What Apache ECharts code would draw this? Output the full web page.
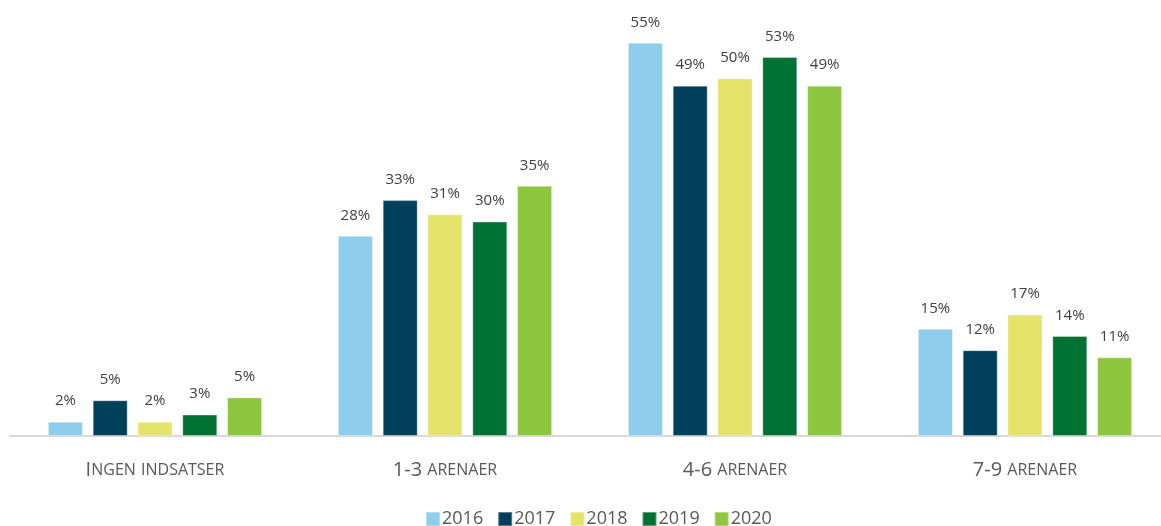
<!DOCTYPE html>
<html>
<head>
<meta charset="utf-8">
<script src="https://cdn.jsdelivr.net/npm/echarts@6/dist/echarts.min.js"></script>
<style>
  html, body { margin: 0; padding: 0; background: #fff; }
  #chart { width: 1161px; height: 526px; }
</style>
</head>
<body>
<div id="chart"></div>
<script>
const categories = ['Ingen indsatser', '1-3 arenaer', '4-6 arenaer', '7-9 arenaer']
const years = ['2016', '2017', '2018', '2019', '2020']
const v2016 = [2, 28, 55, 15]
const v2017 = [5, 33, 49, 12]
const v2018 = [2, 31, 50, 17]
const v2019 = [3, 30, 53, 14]
const v2020 = [5.4, 35, 49, 11]
const colors = ['#8ECDEC', '#00405A', '#E4E46A', '#007233', '#8DC63F']

const fontFam = '"Open Sans", "Noto Sans", sans-serif'

// small caps: lowercase runs become smaller uppercase
function smallCaps(txt) {
  let out = ''
  const parts = txt.match(/[a-zæøå]+|[^a-zæøå]+/g) || []
  parts.forEach(p => {
    if (/[a-zæøå]/.test(p[0])) out += '{s|' + p.toUpperCase() + '}'
    else out += '{b|' + p + '}'
  })
  return out
}

const seriesData = [v2016, v2017, v2018, v2019, v2020]
const series = seriesData.map((d, i) => ({
  name: years[i],
  type: 'bar',
  data: d,
  barWidth: 35,
  barGap: '28%',
  itemStyle: {
    color: colors[i],
    borderColor: 'rgba(255,255,255,0.35)',
    borderWidth: 1
  },
  label: {
    show: true,
    position: 'top',
    distance: 13,
    color: '#404040',
    fontSize: 15,
    fontFamily: fontFam,
    formatter: p => Math.round(p.value) + '%'
  }
}))

const myChart = echarts.init(document.getElementById('chart'))
myChart.setOption({
  animation: false,
  color: colors,
  grid: { left: 10, top: 7, width: 1160, height: 429, outerBoundsMode: 'none' },
  legend: {
    top: 505,
    left: 420,
    itemWidth: 14,
    itemHeight: 14,
    itemGap: 14,
    icon: 'rect',
    textStyle: { color: '#595959', fontSize: 18, fontFamily: fontFam, padding: [0, 0, 0, -3] },
    data: years
  },
  xAxis: {
    type: 'category',
    data: categories,
    axisLine: { lineStyle: { color: '#d9d9d9', width: 2 } },
    axisTick: { show: false },
    axisLabel: {
      margin: 24,
      color: '#595959',
      formatter: v => smallCaps(v),
      rich: {
        b: { fontSize: 20, color: '#595959', fontFamily: fontFam },
        s: { fontSize: 16, color: '#595959', fontFamily: fontFam }
      }
    }
  },
  yAxis: {
    type: 'value',
    min: 0,
    max: 60,
    show: false,
    splitLine: { show: false }
  },
  series: series
})
</script>
</body>
</html>
